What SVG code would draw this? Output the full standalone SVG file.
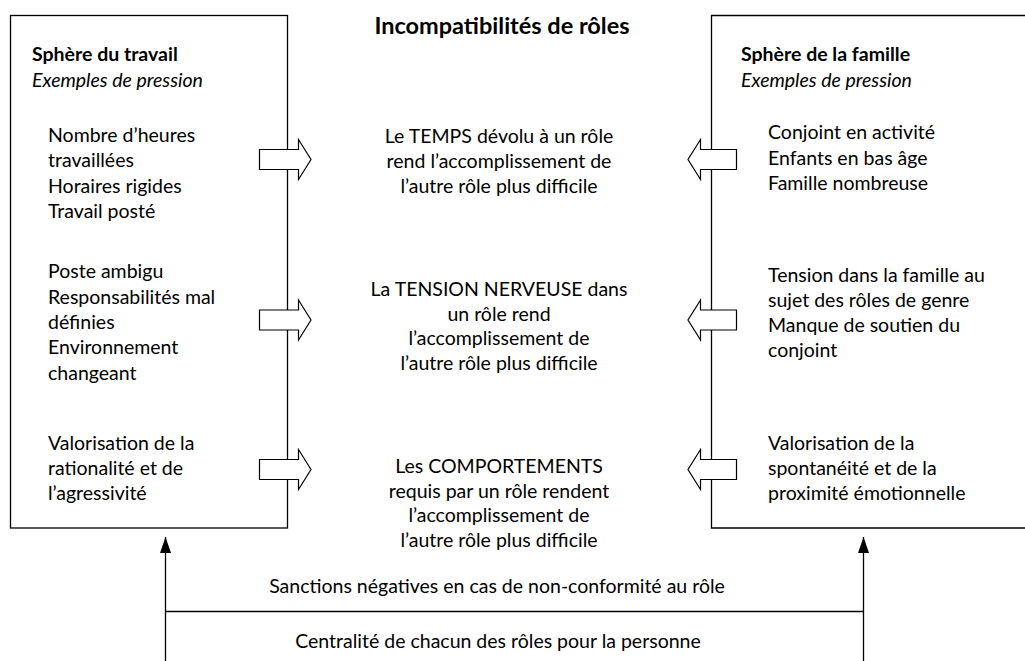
<svg xmlns="http://www.w3.org/2000/svg" width="1025" height="661" viewBox="0 0 1025 661">
<defs>
<style>
text{font-family:Lato,"Liberation Sans",sans-serif;font-size:19.5px;fill:#000}
.b{font-weight:bold}
.t{font-size:23.5px}
.i{font-style:italic}
.m{text-anchor:middle}
.box{fill:#fff;stroke:#000;stroke-width:1.3}
.blk{fill:#fff;stroke:#000;stroke-width:1.2}
.ln{fill:none;stroke:#000;stroke-width:1.3}
</style>
<marker id="ah" viewBox="0 0 16 11" refX="16" refY="5.5" markerWidth="16" markerHeight="11" markerUnits="userSpaceOnUse" orient="auto">
<path d="M0,0 L16,5.5 L0,11 Z" fill="#000"/>
</marker>
</defs>
<rect width="1025" height="661" fill="#fff"/>
<text class="b m t" x="502" y="33.5">Incompatibilités de rôles</text>

<g id="work">
<rect class="box" x="10.5" y="15.5" width="277" height="512.5"/>
<text class="b" x="32" y="61">Sphère du travail</text>
<text class="i" x="32" y="87">Exemples de pression</text>
<text x="48" y="141.5">Nombre d’heures</text>
<text x="48" y="167">travaillées</text>
<text x="48" y="192.5">Horaires rigides</text>
<text x="48" y="218">Travail posté</text>
<text x="48" y="278">Poste ambigu</text>
<text x="48" y="303.5">Responsabilités mal</text>
<text x="48" y="329">définies</text>
<text x="48" y="354">Environnement</text>
<text x="48" y="379.5">changeant</text>
<text x="48" y="450">Valorisation de la</text>
<text x="48" y="475">rationalité et de</text>
<text x="48" y="500">l’agressivité</text>
</g>

<g id="family">
<path class="box" d="M1030,15.5 H711.5 V528 H1030"/>
<text class="b" x="741" y="61">Sphère de la famille</text>
<text class="i" x="741" y="87">Exemples de pression</text>
<text x="768" y="139">Conjoint en activité</text>
<text x="768" y="164.5">Enfants en bas âge</text>
<text x="768" y="189.5">Famille nombreuse</text>
<text x="768" y="281.5">Tension dans la famille au</text>
<text x="768" y="307">sujet des rôles de genre</text>
<text x="768" y="332">Manque de soutien du</text>
<text x="768" y="357">conjoint</text>
<text x="768" y="450">Valorisation de la</text>
<text x="768" y="475">spontanéité et de la</text>
<text x="768" y="500">proximité émotionnelle</text>
</g>

<g id="time">
<text class="m" x="499" y="143">Le TEMPS dévolu à un rôle</text>
<text class="m" x="499" y="168">rend l’accomplissement de</text>
<text class="m" x="499" y="193">l’autre rôle plus difficile</text>
</g>
<g id="tension">
<text class="m" x="499" y="296">La TENSION NERVEUSE dans</text>
<text class="m" x="499" y="320.5">un rôle rend</text>
<text class="m" x="499" y="345">l’accomplissement de</text>
<text class="m" x="499" y="369.5">l’autre rôle plus difficile</text>
</g>
<g id="behaviour">
<text class="m" x="499" y="473">Les COMPORTEMENTS</text>
<text class="m" x="499" y="497.5">requis par un rôle rendent</text>
<text class="m" x="499" y="522">l’accomplissement de</text>
<text class="m" x="499" y="546.5">l’autre rôle plus difficile</text>
</g>

<g id="connectors">
<polygon class="blk" points="259.5,149.5 298.5,149.5 298.5,139.5 311,159.5 298.5,179.5 298.5,169.5 259.5,169.5"/>
<polygon class="blk" points="259.5,310 298.5,310 298.5,300 311,320 298.5,340 298.5,330 259.5,330"/>
<polygon class="blk" points="259.5,459.5 298.5,459.5 298.5,449.5 311,469.5 298.5,489.5 298.5,479.5 259.5,479.5"/>
<polygon class="blk" points="736.5,149.5 700.5,149.5 700.5,139.5 688,159.5 700.5,179.5 700.5,169.5 736.5,169.5"/>
<polygon class="blk" points="736.5,310 700.5,310 700.5,300 688,320 700.5,340 700.5,330 736.5,330"/>
<polygon class="blk" points="736.5,459.5 700.5,459.5 700.5,449.5 688,469.5 700.5,489.5 700.5,479.5 736.5,479.5"/>
<line class="ln" x1="165.5" y1="661" x2="165.5" y2="537" marker-end="url(#ah)"/>
<line class="ln" x1="863.5" y1="661" x2="863.5" y2="537" marker-end="url(#ah)"/>
<line class="ln" x1="165.5" y1="611.5" x2="863.5" y2="611.5"/>
</g>
<g id="sanctions"><text class="m" x="497" y="593">Sanctions négatives en cas de non-conformité au rôle</text></g>
<g id="centrality"><text class="m" x="498" y="648">Centralité de chacun des rôles pour la personne</text></g>
</svg>
